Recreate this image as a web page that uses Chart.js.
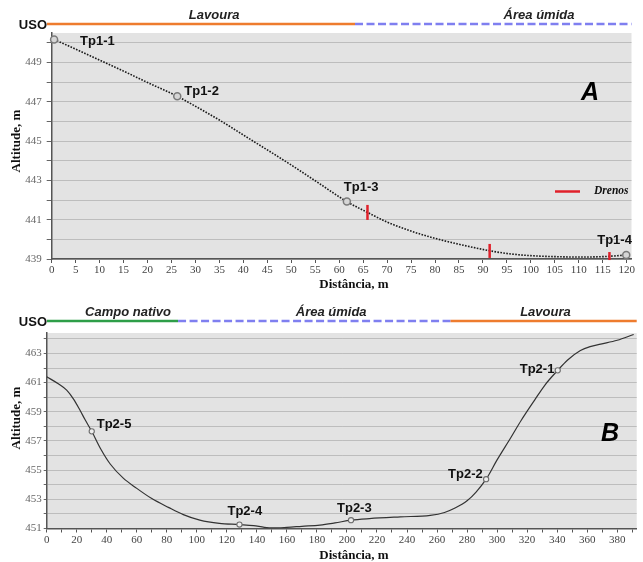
<!DOCTYPE html>
<html><head><meta charset="utf-8">
<script src="https://cdn.jsdelivr.net/npm/chart.js@4.4.1/dist/chart.umd.min.js"></script>
<style>
body{margin:0;background:#fff;width:643px;height:562px;overflow:hidden;position:relative}
canvas{position:absolute;left:0}
</style></head>
<body>
<canvas id="cA" width="643" height="290" style="top:0px"></canvas>
<canvas id="cB" width="643" height="272" style="top:290px"></canvas>
<script>
// ---------- DATA: profile A ----------
const distA = [0.5, 5, 10, 15, 20, 26.2, 30, 35, 41.5, 45, 50, 55, 61.6, 65.9, 70, 75, 80, 85, 91.4, 95, 100, 105, 110, 115, 119.9];
const altA  = [450.17, 449.68, 449.12, 448.56, 447.98, 447.28, 446.77, 446.07, 445.08, 444.55, 443.78, 442.98, 441.92, 441.37, 440.88, 440.42, 440.05, 439.75, 439.42, 439.28, 439.17, 439.12, 439.1, 439.12, 439.2];
const tpNamesA = ['Tp1-1', 'Tp1-2', 'Tp1-3', 'Tp1-4'];
const tpDistA  = [0.5, 26.2, 61.6, 119.9];
const tpAltA   = [450.17, 447.28, 441.92, 439.2];
const drenoDist = [65.9, 91.4, 116.4];
const drenoAlt  = [441.37, 439.41, 439.15];
const usoNamesA = ['Lavoura', 'Área úmida'];
const usoTypesA = ['lavoura', 'umida'];
const usoEndsA  = [63.3, 121];
const usoLabelDistA = [33.9, 101.7];

// ---------- DATA: profile B ----------
const distB = [0, 8, 13.3, 18, 22.2, 25.6, 30, 36, 42.3, 51, 60, 70, 81, 91, 102, 115, 128.4, 137.8, 145, 151, 160, 170, 182, 192, 202.7, 215, 235.5, 255.5, 265, 272, 280, 286, 292.7, 300, 309, 316, 325, 332, 340.4, 347, 355.5, 362, 369, 380, 391];
const altB  = [461.4, 460.9, 460.48, 459.85, 459.1, 458.45, 457.66, 456.45, 455.42, 454.45, 453.75, 453.05, 452.45, 451.95, 451.57, 451.35, 451.27, 451.2, 451.08, 451.04, 451.08, 451.15, 451.23, 451.38, 451.57, 451.68, 451.8, 451.9, 452.1, 452.4, 452.9, 453.5, 454.38, 455.7, 457.2, 458.4, 459.8, 460.85, 461.84, 462.55, 463.2, 463.47, 463.64, 463.9, 464.3];
const tpNamesB = ['Tp2-5', 'Tp2-4', 'Tp2-3', 'Tp2-2', 'Tp2-1'];
const tpDistB  = [30, 128.4, 202.7, 292.7, 340.4];
const tpAltB   = [457.66, 451.27, 451.57, 454.38, 461.84];
const usoNamesB = ['Campo nativo', 'Área úmida', 'Lavoura'];
const usoTypesB = ['campo', 'umida', 'lavoura'];
const usoEndsB  = [87.5, 269, 393];
const usoLabelDistB = [54.2, 189.5, 332.2];

// ---------- STYLE ----------
const usoStyle = {
  lavoura: {color: '#ee7c2e', dash: []},
  umida:   {color: '#7f7ff0', dash: [8, 3.5]},
  campo:   {color: '#2e9e48', dash: []}
};
const tpOffsetA = [[26, 2], [7, -5], [-3, -14], [-29, -15]];
const tpOffsetB = [[5, -7], [-12, -13], [-14, -12], [-38, -5], [-38, -1]];
const drenoLen = [7.5, 7, 4];
const serif = '"Liberation Serif", "Times New Roman", serif';
const sans = '"Liberation Sans", Arial, sans-serif';

const pts = (xs, ys) => xs.map((v, i) => ({x: v, y: ys[i]}));

function decoPlugin(c) {
  return {
    id: 'deco' + c.key,
    beforeDraw(chart) {
      const {ctx, chartArea: a} = chart;
      ctx.save();
      ctx.fillStyle = '#e3e3e3';
      ctx.fillRect(a.left, a.top, a.right - a.left, a.bottom - a.top);
      ctx.restore();
    },
    afterDatasetsDraw(chart) {
      const {ctx, chartArea: a, scales: {x, y}} = chart;
      ctx.save();
      // land-use bar
      const ly = a.top - c.usoGap;
      let start = 47;
      c.usoEnds.forEach((end, i) => {
        const x1 = Math.min(x.getPixelForValue(end), a.right);
        const st = usoStyle[c.usoTypes[i]];
        ctx.beginPath();
        ctx.setLineDash(st.dash);
        ctx.strokeStyle = st.color;
        ctx.lineWidth = 2.5;
        ctx.moveTo(start, ly);
        ctx.lineTo(x1, ly);
        ctx.stroke();
        start = x1;
      });
      ctx.setLineDash([]);
      ctx.fillStyle = '#111';
      ctx.font = 'bold 13px ' + sans;
      ctx.textAlign = 'right';
      ctx.textBaseline = 'middle';
      ctx.fillText('USO', 47, ly + 1);
      ctx.font = 'italic bold 13px ' + sans;
      ctx.textAlign = 'center';
      ctx.fillStyle = '#222';
      c.usoNames.forEach((n, i) => {
        ctx.fillText(n, x.getPixelForValue(c.usoLabelDist[i]), ly - c.usoLabelGap);
      });
      // point labels
      ctx.font = 'bold 13px ' + sans;
      ctx.textAlign = 'left';
      ctx.fillStyle = '#111';
      c.tpNames.forEach((n, i) => {
        const px = x.getPixelForValue(c.tpDist[i]) + c.tpOffset[i][0];
        const py = y.getPixelForValue(c.tpAlt[i]) + c.tpOffset[i][1];
        ctx.fillText(n, px, py);
      });
      // panel letter
      ctx.font = 'italic bold 25px ' + sans;
      ctx.fillStyle = '#000';
      ctx.fillText(c.letter, c.letterPos[0], c.letterPos[1]);
      // axis titles
      ctx.font = 'bold 13px ' + serif;
      ctx.fillStyle = '#111';
      ctx.textAlign = 'center';
      ctx.fillText('Distância, m', 354, c.xTitleY);
      ctx.save();
      ctx.translate(17, c.yTitleY);
      ctx.rotate(-Math.PI / 2);
      ctx.fillText('Altitude, m', 0, 0);
      ctx.restore();
      // legend (Drenos)
      if (c.legend) {
        ctx.beginPath();
        ctx.strokeStyle = '#e0202a';
        ctx.lineWidth = 2.5;
        ctx.moveTo(555, 191.5);
        ctx.lineTo(580, 191.5);
        ctx.stroke();
        ctx.font = 'italic bold 11.5px ' + serif;
        ctx.fillStyle = '#111';
        ctx.textAlign = 'left';
        ctx.fillText('Drenos', 594, 191);
      }
      ctx.restore();
    }
  };
}

function axes(o) {
  return {
    x: {
      type: 'linear', min: o.xmin, max: o.xmax,
      afterFit(s) { s.height = o.xh; },
      ticks: {
        stepSize: o.xstep, includeBounds: false, autoSkip: false, maxRotation: 0,
        color: '#444', font: {family: serif, size: 11}, padding: 1,
        callback: v => (Math.round(v) % o.xlabelEvery === 0 ? Math.round(v) : '')
      },
      grid: {drawOnChartArea: false, tickLength: 4, tickColor: '#555', tickWidth: 1},
      border: {color: '#555', width: 1.5}
    },
    y: {
      type: 'linear', min: o.ymin, max: o.ymax,
      afterFit(s) { s.width = o.yw; },
      ticks: {
        stepSize: 1, includeBounds: false, autoSkip: false,
        color: '#666', font: {family: serif, size: 11}, padding: o.ypad,
        callback: v => (Math.round(v) % 2 === 1 ? Math.round(v) : '')
      },
      grid: {color: '#bdbdbd', lineWidth: 1, tickLength: o.ytick, tickColor: '#666'},
      border: {color: '#555', width: 1.5}
    }
  };
}

const common = {
  responsive: false, animation: false, events: [],
  plugins: {legend: {display: false}, tooltip: {enabled: false}}
};

new Chart(document.getElementById('cA'), {
  type: 'scatter',
  data: {
    datasets: [
      {data: pts(distA, altA), showLine: true, borderColor: '#1a1a1a', borderWidth: 1.6,
       borderDash: [1.6, 1.4], pointRadius: 0, cubicInterpolationMode: 'monotone', order: 3},
      {data: pts(drenoDist, drenoAlt), pointStyle: 'line', rotation: 90, pointRadius: drenoLen,
       borderColor: '#e0202a', pointBorderColor: '#e0202a', pointBorderWidth: 2.5, showLine: false, clip: false, order: 2},
      {data: pts(tpDistA, tpAltA), pointRadius: 3.5, pointBorderWidth: 1.5,
       pointBorderColor: '#7a7a7a', pointBackgroundColor: '#d6d6d6', showLine: false, clip: false, order: 1}
    ]
  },
  options: Object.assign({}, common, {
    layout: {padding: {top: 33, right: 11.5, left: 0, bottom: 0}},
    scales: axes({xmin: 0, xmax: 121, xstep: 5, xlabelEvery: 5, xh: 31, ymin: 439, ymax: 450.5, yw: 51.7, ytick: 5, ypad: 5})
  }),
  plugins: [decoPlugin({
    key: 'A', usoGap: 9, usoLabelGap: 8.5, usoEnds: usoEndsA, usoTypes: usoTypesA, usoNames: usoNamesA,
    usoLabelDist: usoLabelDistA, tpNames: tpNamesA, tpDist: tpDistA, tpAlt: tpAltA, tpOffset: tpOffsetA,
    letter: 'A', letterPos: [581, 93], xTitleY: 285, yTitleY: 141, legend: true
  })]
});

new Chart(document.getElementById('cB'), {
  type: 'scatter',
  data: {
    datasets: [
      {data: pts(distB, altB), showLine: true, borderColor: '#333', borderWidth: 1.2,
       pointRadius: 0, cubicInterpolationMode: 'monotone', order: 2},
      {data: pts(tpDistB, tpAltB), pointRadius: 2.6, pointBorderWidth: 1.1,
       pointBorderColor: '#6e6e6e', pointBackgroundColor: '#eeeeee', showLine: false, clip: false, order: 1}
    ]
  },
  options: Object.assign({}, common, {
    layout: {padding: {top: 43, right: 6.3, left: 0, bottom: 0}},
    scales: axes({xmin: 0, xmax: 393, xstep: 10, xlabelEvery: 20, xh: 33.5, ymin: 451, ymax: 464.4, yw: 46.7, ytick: 3, ypad: 2})
  }),
  plugins: [decoPlugin({
    key: 'B', usoGap: 12, usoLabelGap: 8.5, usoEnds: usoEndsB, usoTypes: usoTypesB, usoNames: usoNamesB,
    usoLabelDist: usoLabelDistB, tpNames: tpNamesB, tpDist: tpDistB, tpAlt: tpAltB, tpOffset: tpOffsetB,
    letter: 'B', letterPos: [601, 144], xTitleY: 266, yTitleY: 128, legend: false
  })]
});
</script>
</body></html>
